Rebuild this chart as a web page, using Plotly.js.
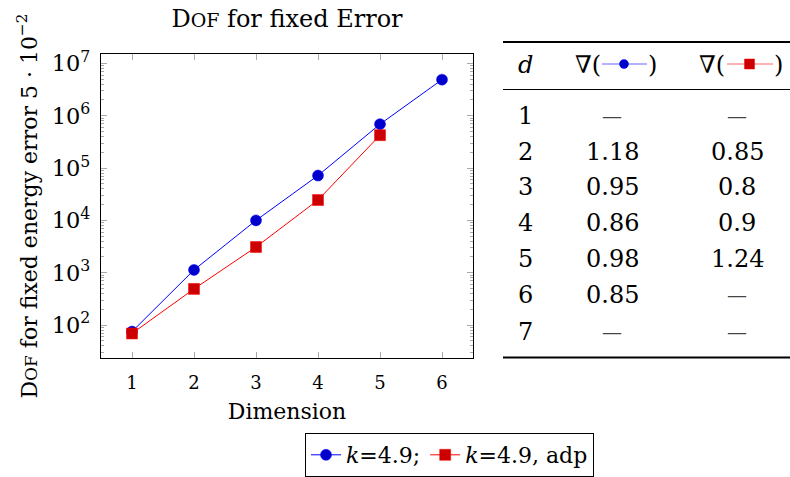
<!DOCTYPE html>
<html><head><meta charset="utf-8">
<script src="https://cdn.plot.ly/plotly-3.0.1.min.js"></script>
<style>html,body{margin:0;padding:0;background:#fff}</style>
</head><body><div id="chart" style="width:790px;height:477px"></div>
<script>
// ---- data ----
const dimsK = [1, 2, 3, 4, 5, 6];
const dofK = [75, 1130, 10000, 72000, 690000, 4900000];
const dimsAdp = [1, 2, 3, 4, 5];
const dofAdp = [69, 490, 3100, 24500, 425000];
const tableD = ['1', '2', '3', '4', '5', '6', '7'];
const rateK = ['—', '1.18', '0.95', '0.86', '0.98', '0.85', '—'];
const rateAdp = ['—', '0.85', '0.8', '0.9', '1.24', '—', '—'];
const xTickVals = [1, 2, 3, 4, 5, 6];

// ---- layout helpers (pixel -> paper) ----
const L = 101, R = 473, T = 54, B = 358;
const px = x => (x - L) / (R - L);
const py = y => (B - y) / (B - T);
const FONT = 'DejaVu Serif';

const traces = [
  {x: dimsK, y: dofK, mode: 'lines+markers', name: '<i>k</i>=4.9;',
   line: {color: '#0000ff', width: 1},
   marker: {symbol: 'circle', size: 11, color: '#0000cc', line: {color: '#0000ff', width: 0.5}}},
  {x: dimsAdp, y: dofAdp, mode: 'lines+markers', name: '<i>k</i>=4.9, adp',
   line: {color: '#ff0000', width: 1},
   marker: {symbol: 'square', size: 11, color: '#cc0000', line: {color: '#ff0000', width: 0.5}}}
];

const annotations = [];
const shapes = [];
// table
const colX = [525, 612, 737];
const rowY = [116, 152, 187, 223, 259, 295, 332];
for (let i = 0; i < tableD.length; i++) {
  const vals = [tableD[i], rateK[i], rateAdp[i]];
  vals.forEach((v, j) => {
    const dash = v === '—';
    annotations.push({xref: 'paper', yref: 'paper', x: px(colX[j]), y: py(rowY[i]),
      text: v, showarrow: false, xanchor: 'center', yanchor: 'middle',
      font: {family: FONT, size: dash ? 20 : 24, color: dash ? '#444' : '#000'}});
  });
}
// header
const hdr = (x, text, anchor) => annotations.push({xref:'paper', yref:'paper', x: px(x), y: py(65), text: text,
  showarrow:false, xanchor: anchor, yanchor:'middle', font:{family: FONT, size: 24, color:'#000'}});
hdr(525, '<i>d</i>', 'center');
hdr(603, '∇(', 'right');
hdr(646, ')', 'left');
hdr(727, '∇(', 'right');
hdr(772, ')', 'left');
// header icons
shapes.push({type:'line', xref:'paper', yref:'paper', x0: px(602), x1: px(647), y0: py(64), y1: py(64), line:{color:'#6666ff', width:1.2}});
shapes.push({type:'circle', xref:'paper', yref:'paper', x0: px(619.5), x1: px(628.5), y0: py(59.5), y1: py(68.5), fillcolor:'#0000cc', line:{color:'#0000ff', width:0.5}});
shapes.push({type:'line', xref:'paper', yref:'paper', x0: px(727), x1: px(773), y0: py(64), y1: py(64), line:{color:'#ff6666', width:1.2}});
shapes.push({type:'rect', xref:'paper', yref:'paper', x0: px(744.5), x1: px(754.5), y0: py(59), y1: py(69), fillcolor:'#cc0000', line:{color:'#ff0000', width:0.5}});
// rules
shapes.push({type:'line', xref:'paper', yref:'paper', x0: px(503), x1: px(790), y0: py(42), y1: py(42), line:{color:'#000', width:2}});
shapes.push({type:'line', xref:'paper', yref:'paper', x0: px(503), x1: px(790), y0: py(89.5), y1: py(89.5), line:{color:'#000', width:1.2}});
shapes.push({type:'line', xref:'paper', yref:'paper', x0: px(503), x1: px(790), y0: py(357.5), y1: py(357.5), line:{color:'#000', width:2}});

const layout = {
  width: 790, height: 477,
  margin: {l: L, r: 790 - R, t: T, b: 477 - B, autoexpand: false},
  paper_bgcolor: '#fff', plot_bgcolor: '#fff',
  font: {family: FONT, color: '#000', size: 18},
  title: {text: 'D<span style="font-size:19px">OF</span> for fixed Error', x: px(287), xref: 'paper', xanchor: 'center',
          y: 1 - 19 / 477, yanchor: 'middle', font: {family: FONT, size: 24, color: '#000'}},
  showlegend: true,
  legend: {orientation: 'h', x: px(449.5), xanchor: 'center', y: py(433), yanchor: 'top',
           bordercolor: '#000', borderwidth: 1, bgcolor: '#fff',
           font: {family: FONT, size: 22, color: '#000'}, itemwidth: 30, tracegroupgap: 0},
  xaxis: {range: [0.5, 6.5], tickvals: xTickVals, ticks: 'inside', ticklen: 6, tickcolor: '#aaa', tickwidth: 1,
          showline: true, linecolor: '#000', linewidth: 1, mirror: 'ticks', showgrid: false, zeroline: false,
          tickfont: {family: FONT, size: 18}, ticklabelstandoff: 8,
          title: {text: 'Dimension', font: {family: FONT, size: 22}, standoff: 12}},
  yaxis: {type: 'log', range: [1.37, 7.18], dtick: 1, exponentformat: 'power', ticks: 'inside', ticklen: 6,
          tickcolor: '#aaa', tickwidth: 1, showline: true, linecolor: '#000', linewidth: 1, mirror: 'ticks',
          showgrid: false, zeroline: false, tickfont: {family: FONT, size: 18}, ticklabelstandoff: 6,
          minor: {ticks: 'inside', ticklen: 3, tickcolor: '#aaa', dtick: 'D1', showgrid: false},
          title: {text: 'D<span style="font-size:17px">OF</span> for fixed energy error 5 · 10<sup>−2</sup>',
                  font: {family: FONT, size: 22}, standoff: 8}},
  annotations: annotations,
  shapes: shapes
};

Plotly.newPlot('chart', traces, layout, {displayModeBar: false, staticPlot: true});
</script></body></html>
